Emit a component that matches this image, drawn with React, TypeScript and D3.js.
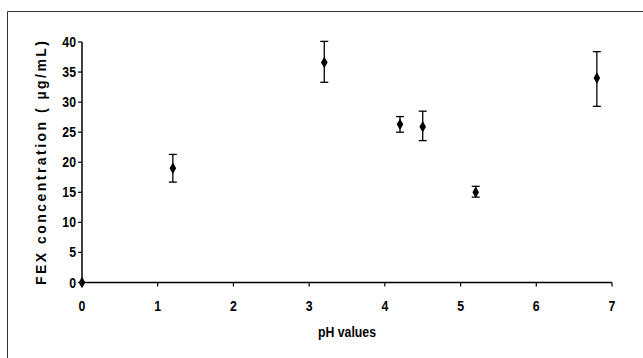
import React, { useRef, useEffect } from 'react';
import * as d3 from 'd3';

// pH values and measured FEX concentration (µg/mL) with error bar limits
const phValues = [0, 1.2, 3.2, 4.2, 4.5, 5.2, 6.8];
const concentration = [0, 19, 36.6, 26.3, 25.9, 15, 34];
const errLow = [0, 16.7, 33.3, 25.0, 23.6, 14.2, 29.3];
const errHigh = [0, 21.3, 40.1, 27.6, 28.5, 16.0, 38.4];
const xTicks = [0, 1, 2, 3, 4, 5, 6, 7];
const yTicks = [0, 5, 10, 15, 20, 25, 30, 35, 40];

const FONT = '"Liberation Sans Narrow", "Arial Narrow", "Liberation Sans", Arial, sans-serif';
const NARROW = 0.82; // no narrow face installed, squeeze the regular one

const App = () => {
  const ref = useRef<SVGSVGElement>(null);

  useEffect(() => {
    const W = 643, H = 358;
    const svg = d3.select(ref.current).attr('width', W).attr('height', H);
    svg.selectAll('*').remove();

    // outer frame (only top and left edges show in the crop)
    svg.append('path')
      .attr('d', `M7.5,${H} V11.5 H${W}`)
      .attr('fill', 'none')
      .attr('stroke', '#333')
      .attr('stroke-width', 1);

    const x = d3.scaleLinear().domain([0, 7]).range([82, 612]);
    const y = d3.scaleLinear().domain([0, 40]).range([282.5, 42]);

    const g = svg.append('g');

    // axes
    g.append('line').attr('x1', x(0)).attr('x2', x(7)).attr('y1', y(0)).attr('y2', y(0))
      .attr('stroke', '#000').attr('stroke-width', 1.5);
    g.append('line').attr('x1', x(0)).attr('x2', x(0)).attr('y1', y(0)).attr('y2', y(40))
      .attr('stroke', '#000').attr('stroke-width', 1.5);

    g.selectAll('.xt').data(xTicks).enter().append('line')
      .attr('x1', d => x(d)).attr('x2', d => x(d))
      .attr('y1', y(0)).attr('y2', y(0) + 4)
      .attr('stroke', '#000').attr('stroke-width', 1.2);
    g.selectAll('.xl').data(xTicks).enter().append('text')
      .attr('transform', d => `translate(${x(d)},${y(0) + 28}) scale(${NARROW},1)`)
      .attr('text-anchor', 'middle')
      .attr('font-family', FONT).attr('font-weight', 'bold').attr('font-size', 15)
      .text(d => d);

    g.selectAll('.yt').data(yTicks).enter().append('line')
      .attr('x1', x(0) - 4).attr('x2', x(0))
      .attr('y1', d => y(d)).attr('y2', d => y(d))
      .attr('stroke', '#000').attr('stroke-width', 1.2);
    g.selectAll('.yl').data(yTicks).enter().append('text')
      .attr('transform', d => `translate(${x(0) - 6},${y(d) + 5}) scale(${NARROW},1)`)
      .attr('text-anchor', 'end')
      .attr('font-family', FONT).attr('font-weight', 'bold').attr('font-size', 15)
      .text(d => d);

    // axis titles
    g.append('text')
      .attr('transform', `translate(347,337) scale(${NARROW},1)`)
      .attr('text-anchor', 'middle')
      .attr('font-family', FONT).attr('font-weight', 'bold').attr('font-size', 15)
      .text('pH values');
    g.append('text')
      .attr('transform', `translate(46,163) rotate(-90)`)
      .attr('text-anchor', 'middle')
      .attr('font-family', FONT).attr('font-weight', 'bold').attr('font-size', 14)
      .attr('textLength', 244).attr('lengthAdjust', 'spacing')
      .text('FEX concentration ( µg/mL)');

    const pts = phValues.map((p, i) => ({ p, v: concentration[i], lo: errLow[i], hi: errHigh[i] }));

    // error bars
    const eb = g.selectAll('.eb').data(pts.filter(d => d.hi > d.lo)).enter().append('g');
    eb.append('line')
      .attr('x1', d => x(d.p)).attr('x2', d => x(d.p))
      .attr('y1', d => y(d.lo)).attr('y2', d => y(d.hi))
      .attr('stroke', '#000').attr('stroke-width', 1.3);
    eb.append('line')
      .attr('x1', d => x(d.p) - 4).attr('x2', d => x(d.p) + 4)
      .attr('y1', d => y(d.hi)).attr('y2', d => y(d.hi))
      .attr('stroke', '#000').attr('stroke-width', 1.3);
    eb.append('line')
      .attr('x1', d => x(d.p) - 4).attr('x2', d => x(d.p) + 4)
      .attr('y1', d => y(d.lo)).attr('y2', d => y(d.lo))
      .attr('stroke', '#000').attr('stroke-width', 1.3);

    // diamond markers
    const diamond = d3.symbol().type(d3.symbolDiamond).size(38);
    g.selectAll('.pt').data(pts).enter().append('path')
      .attr('transform', d => `translate(${x(d.p)},${y(d.v)})`)
      .attr('d', diamond)
      .attr('fill', '#000');
  }, []);

  return <svg ref={ref} style={{ position: 'absolute', left: 0, top: 0, background: '#fff' }}></svg>;
};

export default App;
